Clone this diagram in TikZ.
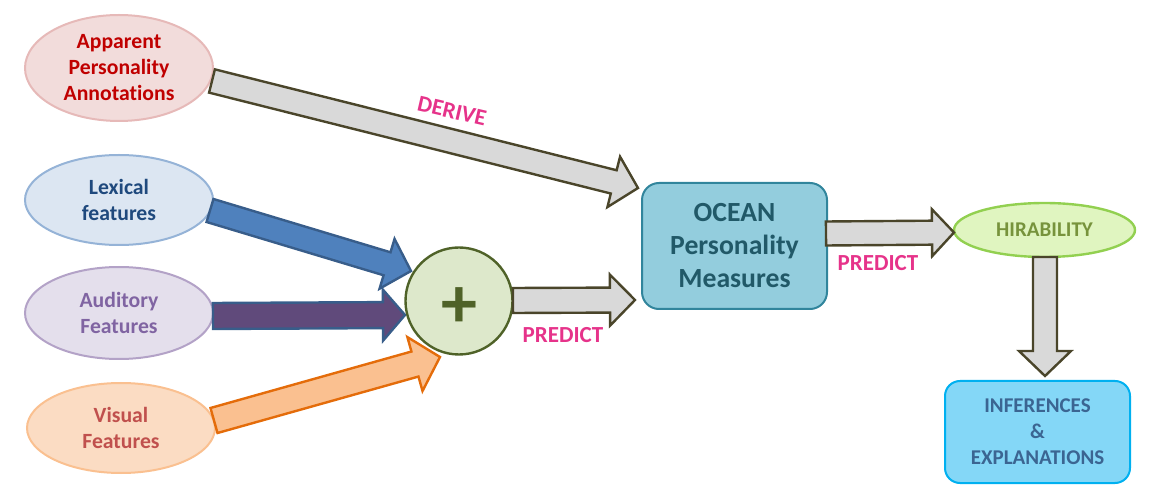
\documentclass[tikz,border=0pt]{standalone}
\usepackage{fontspec}
\setmainfont{Carlito}[Ligatures=NoCommon]
\usetikzlibrary{calc,shapes.geometric}
\definecolor{aptext}{HTML}{C00000}\definecolor{apfill}{HTML}{F2DCDB}\definecolor{apdraw}{HTML}{E6B9B8}
\definecolor{lxtext}{HTML}{1F497D}\definecolor{lxfill}{HTML}{DCE6F2}\definecolor{lxdraw}{HTML}{95B3D7}
\definecolor{autext}{HTML}{8064A2}\definecolor{aufill}{HTML}{E4DFEC}\definecolor{audraw}{HTML}{B3A2C7}
\definecolor{vitext}{HTML}{C0504D}\definecolor{vifill}{HTML}{FBDCC3}\definecolor{vidraw}{HTML}{FAC090}
\definecolor{grayfill}{HTML}{D9D9D9}\definecolor{graydraw}{HTML}{4A452A}
\definecolor{bluefill}{HTML}{4F81BD}\definecolor{bluedraw}{HTML}{385D8A}
\definecolor{purpfill}{HTML}{604A7B}
\definecolor{orfill}{HTML}{FAC090}\definecolor{ordraw}{HTML}{E46C0A}
\definecolor{plusfill}{HTML}{DDE8CB}\definecolor{plusdraw}{HTML}{4F6228}
\definecolor{ocfill}{HTML}{93CDDD}\definecolor{ocdraw}{HTML}{31859C}\definecolor{octext}{HTML}{215968}
\definecolor{hifill}{HTML}{E0F5C0}\definecolor{hidraw}{HTML}{92D050}\definecolor{hitext}{HTML}{77933C}
\definecolor{infill}{HTML}{84D7F7}\definecolor{indraw}{HTML}{00B0F0}\definecolor{intext}{HTML}{3B6592}
\definecolor{pinktext}{HTML}{E6338A}
\begin{document}
\begin{tikzpicture}[x=1pt,y=-1pt,
  lbl/.style={font=\bfseries\fontsize{21.7}{26}\selectfont, align=center},
  ell/.style={ellipse, line width=2pt, inner sep=0pt, lbl},
  act/.style={font=\bfseries\fontsize{23}{26}\selectfont, text=pinktext},
  blockarrow/.style n args={3}{line width=2.4pt, line join=miter,
    to path={let \p1=(\tikztostart), \p2=(\tikztotarget),
      \n1={veclen(\x2-\x1,\y2-\y1)}, \n2={atan2(\y2-\y1,\x2-\x1)}, \n3={\n1-#3} in
      ($(\p1)+({\n2+90}:#1pt)$)
      -- ($(\p1)+({\n2}:\n3)+({\n2+90}:#1pt)$)
      -- ($(\p1)+({\n2}:\n3)+({\n2+90}:#2pt)$)
      -- (\p2)
      -- ($(\p1)+({\n2}:\n3)+({\n2-90}:#2pt)$)
      -- ($(\p1)+({\n2}:\n3)+({\n2-90}:#1pt)$)
      -- ($(\p1)+({\n2-90}:#1pt)$) -- cycle}}
]
\useasboundingbox (0,0) rectangle (1165,502);
% nodes
\node[ell, minimum width=188pt, minimum height=106pt, fill=apfill, draw=apdraw, text=aptext] (ap) at (119,68) {Apparent\\Personality\\Annotations};
\node[ell, minimum width=188pt, minimum height=90pt, fill=lxfill, draw=lxdraw, text=lxtext] (lx) at (119,200) {Lexical\\features};
\node[ell, minimum width=188pt, minimum height=92pt, fill=aufill, draw=audraw, text=autext] (au) at (119,313) {Auditory\\Features};
\node[ell, minimum width=188pt, minimum height=90pt, fill=vifill, draw=vidraw, text=vitext] (vi) at (121,428) {Visual\\Features};
\node[rectangle, rounded corners=17pt, minimum width=185pt, minimum height=126pt, fill=ocfill, draw=ocdraw, line width=2pt, text=octext, font=\bfseries\fontsize{27.7}{33}\selectfont, align=center] (oc) at (734.5,246) {OCEAN\\Personality\\Measures};
\node[ellipse, minimum width=181pt, minimum height=54pt, inner sep=0pt, fill=hifill, draw=hidraw, line width=2.4pt, text=hitext, font=\bfseries\fontsize{21}{24}\selectfont] (hi) at (1044.5,230) {HIRABILITY};
\node[rectangle, rounded corners=15pt, minimum width=185pt, minimum height=102pt, fill=infill, draw=indraw, line width=2pt, text=intext, font=\bfseries\fontsize{21}{26}\selectfont, align=center] (in) at (1037.5,432) {INFERENCES\\\&\\EXPLANATIONS};
% arrow end points
\coordinate (t1) at (212,81);   \coordinate (p1) at (638,188);
\coordinate (t2) at (210,210.5);\coordinate (p2) at (411,271);
\coordinate (t3) at (213,316);  \coordinate (p3) at (405,315);
\coordinate (t4) at (214,420.5);\coordinate (p4) at (440,357);
\coordinate (t5) at (513,300.5);\coordinate (p5) at (635,300);
\coordinate (t6) at (826,233.5);\coordinate (p6) at (954,232.5);
\coordinate (t7) at (1045,257); \coordinate (p7) at (1045,376);
% arrows
\draw[blockarrow={12}{26}{25}, fill=grayfill, draw=graydraw] (t1) to (p1);
\draw[blockarrow={12}{26}{25}, fill=bluefill, draw=bluedraw] (t2) to (p2);
\draw[blockarrow={13}{25.5}{22}, fill=purpfill, draw=bluedraw] (t3) to (p3);
\draw[blockarrow={13}{28}{26}, fill=orfill, draw=ordraw] (t4) to (p4);
\node[circle, minimum size=107pt, inner sep=0pt, fill=plusfill, draw=plusdraw, line width=2.4pt,
  label={[text=plusdraw, font=\bfseries\fontsize{72}{72}\selectfont, yshift=-7pt]center:+}] (pl) at (459,301) {};
\draw[blockarrow={12.5}{25.5}{25}, fill=grayfill, draw=graydraw] (t5) to (p5);
\draw[blockarrow={12}{23.5}{22}, fill=grayfill, draw=graydraw] (t6) to (p6);
\draw[blockarrow={12}{26}{25}, fill=grayfill, draw=graydraw] (t7) to (p7);
% labels
\node[act, rotate=-13] (dl) at (452,111) {DERIVE};
\node[act] (pl1) at (563,335) {PREDICT};
\node[act] (pl2) at (878,263) {PREDICT};
\end{tikzpicture}
\end{document}
